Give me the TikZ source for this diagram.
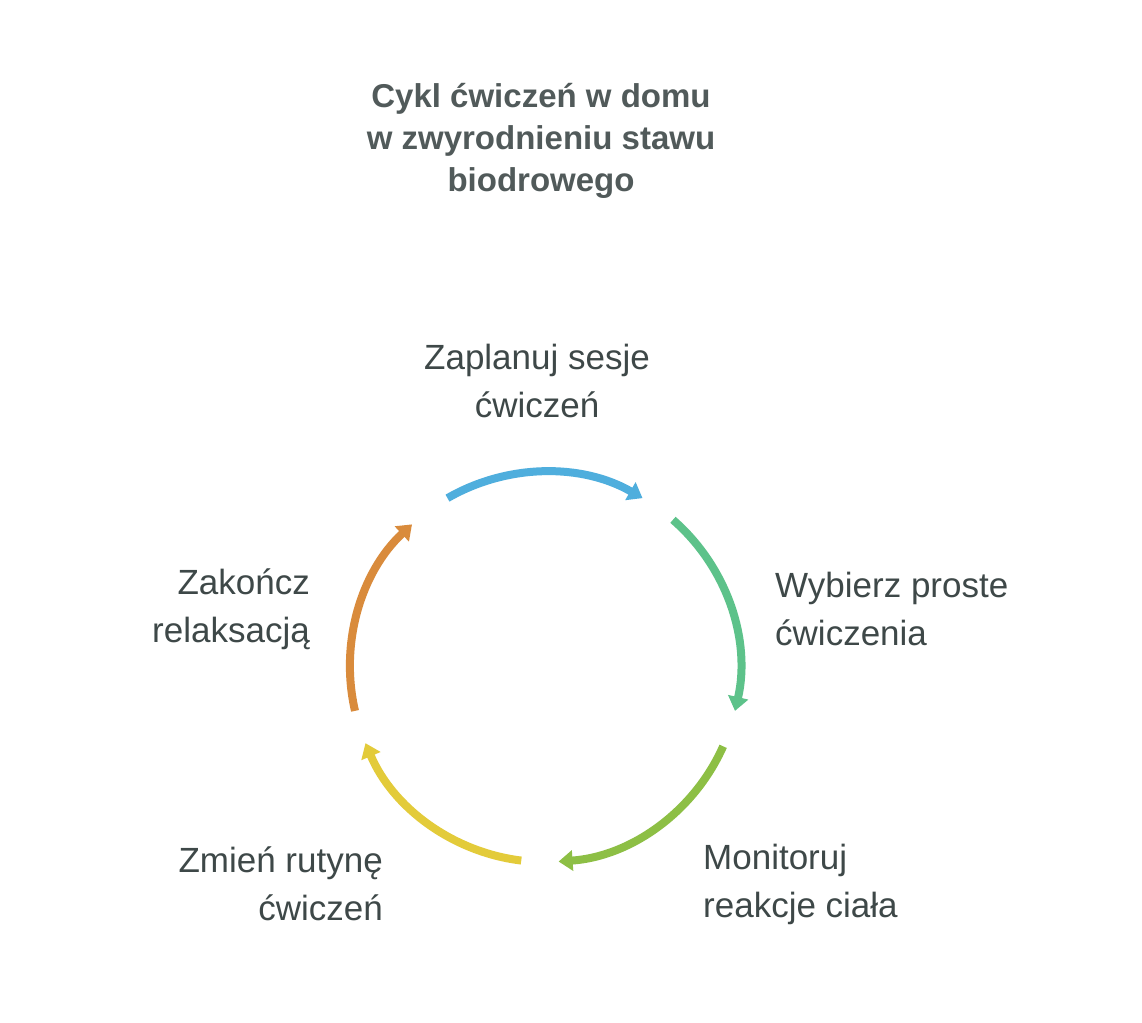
\documentclass[tikz,border=0pt]{standalone}
\usepackage{fontspec}
\setmainfont{Liberation Sans}
\usetikzlibrary{arrows.meta}
\definecolor{cblue}{HTML}{4FAEDD}
\definecolor{cgreen}{HTML}{5DC28A}
\definecolor{clime}{HTML}{8DBF45}
\definecolor{cyel}{HTML}{E3CB3A}
\definecolor{corg}{HTML}{D98B3C}
\definecolor{ctxt}{HTML}{3E4848}
\begin{document}
\begin{tikzpicture}[x=1pt,y=-1pt,
  arc/.style={line width=8pt,-{Triangle[length=14pt,width=20pt]}},
  lab/.style={font=\fontsize{35}{48}\selectfont,text=ctxt,align=left,inner sep=0},
  labr/.style={lab,align=right}]
\path[fill=white] (0,0) rectangle (1142,1022);
\useasboundingbox (0,0) rectangle (1142,1022);
\node[font=\bfseries\fontsize{33}{42}\selectfont,text=ctxt!90,align=center] (title) at (541,141) {Cykl ćwiczeń w domu\\w zwyrodnieniu stawu\\biodrowego};
\coordinate (c) at (545,667);
\draw[arc,cblue] ([shift={(-120:195)}]c) arc[start angle=-120,end angle=-60,radius=195];
\draw[arc,cgreen] ([shift={(-49:195)}]c) arc[start angle=-49,end angle=13,radius=195];
\draw[arc,clime] ([shift={(24:195)}]c) arc[start angle=24,end angle=86,radius=195];
\draw[arc,cyel] ([shift={(97:195)}]c) arc[start angle=97,end angle=157,radius=195];
\draw[arc,corg] ([shift={(167:195)}]c) arc[start angle=167,end angle=227,radius=195];
\node[lab,align=center] (n1) at (537,381) {Zaplanuj sesje\\ćwiczeń};
\node[lab,anchor=west] (n2) at (775,609) {Wybierz proste\\ćwiczenia};
\node[lab,anchor=west] (n3) at (703,884) {Monitoruj\\reakcje ciała};
\node[labr,anchor=east] (n4) at (383,884) {Zmień rutynę\\ćwiczeń};
\node[labr,anchor=east] (n5) at (310,609) {Zakończ\\relaksacją};
\end{tikzpicture}
\end{document}
